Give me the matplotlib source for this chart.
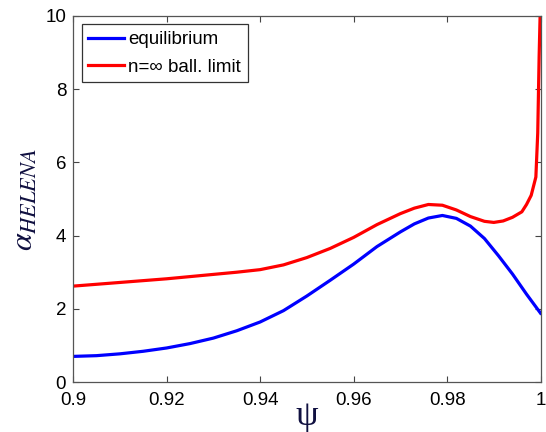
import matplotlib
matplotlib.use('Agg')
import matplotlib.pyplot as plt

# values
psi_eq = [0.900, 0.905, 0.910, 0.915, 0.920, 0.925, 0.930, 0.935, 0.940, 0.945,
          0.950, 0.955, 0.960, 0.965, 0.970, 0.973, 0.976, 0.979, 0.982, 0.985,
          0.988, 0.991, 0.994, 0.997, 1.000]
alpha_eq = [0.70, 0.72, 0.77, 0.84, 0.93, 1.05, 1.20, 1.40, 1.64, 1.95,
            2.35, 2.78, 3.22, 3.70, 4.10, 4.32, 4.48, 4.55, 4.47, 4.26,
            3.92, 3.45, 2.95, 2.40, 1.88]

psi_bal = [0.900, 0.905, 0.910, 0.915, 0.920, 0.925, 0.930, 0.935, 0.940, 0.945,
           0.950, 0.955, 0.960, 0.965, 0.970, 0.973, 0.976, 0.979, 0.982, 0.985,
           0.988, 0.990, 0.992, 0.994, 0.996, 0.997, 0.998, 0.999, 0.9994, 0.9997, 1.000]
alpha_bal = [2.62, 2.67, 2.72, 2.77, 2.82, 2.88, 2.94, 3.00, 3.07, 3.20,
             3.40, 3.65, 3.95, 4.30, 4.60, 4.75, 4.85, 4.83, 4.70, 4.52,
             4.39, 4.36, 4.40, 4.50, 4.65, 4.85, 5.10, 5.60, 6.80, 8.90, 10.5]

xticks = [0.9, 0.92, 0.94, 0.96, 0.98, 1]
xticklabels = ['0.9', '0.92', '0.94', '0.96', '0.98', '1']
yticks = [0, 2, 4, 6, 8, 10]

plt.rcParams['font.family'] = ['Liberation Sans', 'DejaVu Sans']
plt.rcParams['mathtext.fontset'] = 'stix'

fig = plt.figure(figsize=(5.46, 4.32), dpi=100)
ax = fig.add_axes([0.134, 0.1157, 0.856, 0.8473])

ax.plot(psi_eq, alpha_eq, color='#0000ff', lw=2.3, label='equilibrium')
ax.plot(psi_bal, alpha_bal, color='#ff0000', lw=2.3, label='n=\u221e ball. limit')

ax.set_xlim(0.9, 1.0)
ax.set_ylim(0, 10)
ax.set_xticks(xticks)
ax.set_xticklabels(xticklabels)
ax.set_yticks(yticks)
ax.tick_params(direction='in', top=True, right=True, length=4, width=0.8,
               labelsize=13.5, color='#444444', pad=5)
ax.tick_params(axis='x', pad=7)
for s in ax.spines.values():
    s.set_color('#555555')
    s.set_linewidth(0.9)

ax.set_xlabel('\u03c8', fontsize=26, color='#101040', family='Liberation Serif',
              labelpad=-6)
ax.set_ylabel(r'$\alpha_{HELENA}$', fontsize=23, color='#101040', labelpad=4)

leg = ax.legend(loc='upper left', fontsize=13.5, handlelength=1.9, handletextpad=0.25,
                borderpad=0.35, labelspacing=0.55, fancybox=False, framealpha=1,
                borderaxespad=0.45)
leg.get_frame().set_edgecolor('#333333')
leg.get_frame().set_linewidth(0.9)

fig.savefig('out.png', dpi=100)
